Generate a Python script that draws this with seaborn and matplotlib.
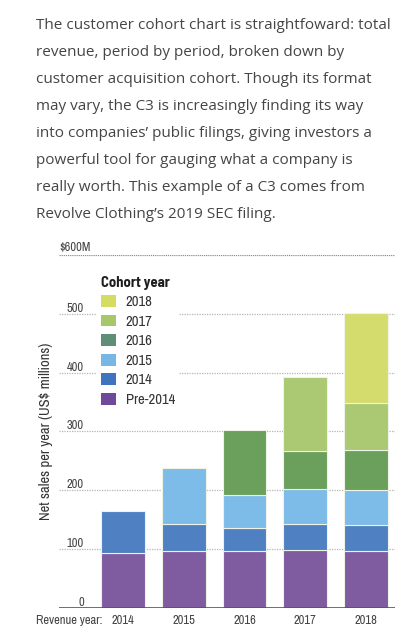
import pandas as pd
import seaborn as sns
import matplotlib.pyplot as plt
import matplotlib.transforms as mtransforms
from matplotlib.patches import Patch

# revenue years along the x axis
years = ["2014", "2015", "2016", "2017", "2018"]

# net sales per cohort (US$ millions)
pre_2014 = [93, 96, 96, 99, 96]
c2014 = [71, 47, 40, 44, 44]
c2015 = [0, 94, 55, 59, 61]
c2016 = [0, 0, 112, 64, 68]
c2017 = [0, 0, 0, 126, 80]
c2018 = [0, 0, 0, 0, 152]

cohorts = ["Pre-2014", "2014", "2015", "2016", "2017", "2018"]
bar_colors = ["#7f5b9f", "#4e80c2", "#7dbbe8", "#6b9f5c", "#abc872", "#d5dc6e"]
legend_colors = ["#6f4a9b", "#3f72bf", "#78b6e6", "#5e8f76", "#a7c86a", "#d4dc62"]

yticks = [0, 100, 200, 300, 400, 500]

paragraph = ("The customer cohort chart is straightfoward: total\n"
             "revenue, period by period, broken down by\n"
             "customer acquisition cohort. Though its format\n"
             "may vary, the C3 is increasingly finding its way\n"
             "into companies\u2019 public filings, giving investors a\n"
             "powerful tool for gauging what a company is\n"
             "really worth. This example of a C3 comes from\n"
             "Revolve Clothing\u2019s 2019 SEC filing.")

sns.set_style("white")
plt.rcParams["font.family"] = ["Archivo Narrow", "DejaVu Sans"]

fig = plt.figure(figsize=(4.2, 6.39), dpi=100)
ax = fig.add_axes([59 / 420, 31.3 / 639, 336 / 420, 352.7 / 639])

# stack the bars with bottom=
values = [pre_2014, c2014, c2015, c2016, c2017, c2018]
df = pd.DataFrame(values, index=cohorts, columns=years)
bottoms = df.cumsum().shift(1).fillna(0)

for i, name in enumerate(cohorts):
    keep = [y for y in years if df.loc[name, y] > 0]
    sub = pd.DataFrame({"year": keep, "value": [df.loc[name, y] for y in keep]})
    sns.barplot(data=sub, x="year", y="value", order=years, color=bar_colors[i],
                width=0.72, saturation=1, edgecolor="#eef3e8", linewidth=0.8,
                bottom=[bottoms.loc[name, y] for y in keep], ax=ax, zorder=3)

ax.set_xlim(-1.06, 4.48)
ax.set_ylim(0, 600)

# dotted grid lines, labels sitting on top of them
for v in yticks[1:]:
    ax.axhline(v, color="#b5b5b5", linestyle=(0, (1, 1)), linewidth=0.9, zorder=1)
ax.axhline(600, color="#8f8f8f", linestyle=(0, (1, 0.7)), linewidth=0.9, zorder=1)
ax.axhline(0, color="#555555", linewidth=1.2, zorder=4)

ax.set_yticks(yticks)
ax.set_yticklabels([str(v) for v in yticks])
ax.tick_params(axis="y", length=0, pad=-18, labelsize=9, labelcolor="#444444")
for lab in ax.get_yticklabels():
    lab.set_verticalalignment("bottom")

ax.tick_params(axis="x", length=0, pad=5, labelsize=9, labelcolor="#444444")
ax.set_xlabel("")
ax.set_ylabel("Net sales per year (US$ millions)", fontsize=10.5, color="#333333")
ax.yaxis.set_label_coords(-0.018, 0.5)

for s in ax.spines.values():
    s.set_visible(False)

trans = mtransforms.blended_transform_factory(ax.transAxes, ax.transData)
ax.text(0, 604, "$600M", transform=trans, ha="left", va="bottom",
        fontsize=9, color="#444444")
xtrans = mtransforms.blended_transform_factory(ax.transData, ax.transAxes)
ax.text(-0.35, -0.021, "Revenue year:", transform=xtrans, ha="right", va="top",
        fontsize=9, color="#444444")

# legend, newest cohort first
handles = [Patch(facecolor=legend_colors[i], edgecolor="none") for i in range(len(cohorts))][::-1]
leg = ax.legend(handles, cohorts[::-1], title="Cohort year", loc="upper left",
                bbox_to_anchor=(0.112, 0.954), frameon=True, fontsize=10.5,
                title_fontproperties={"family": ["Barlow Semi Condensed", "DejaVu Sans"],
                                      "weight": "bold", "size": 10.5},
                handlelength=1.05, handleheight=0.85, labelspacing=0.38,
                handletextpad=0.65, borderaxespad=0, borderpad=0.3)
leg.get_frame().set_facecolor("white")
leg.get_frame().set_edgecolor("none")
leg.get_frame().set_alpha(1)
leg.set_zorder(5)
leg._legend_box.align = "left"
for t in leg.get_texts():
    t.set_color("#333333")
leg.get_title().set_color("#1e1e1e")

fig.text(36 / 420, 1 - 18 / 639, paragraph, ha="left", va="top", fontsize=11,
         family=["Open Sans", "DejaVu Sans"], color="#454545", linespacing=2.085)

fig.savefig("out.png", dpi=100)
